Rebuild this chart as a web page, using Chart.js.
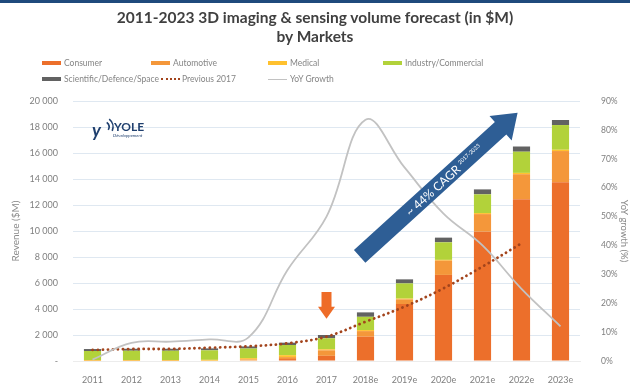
<!DOCTYPE html>
<html>
<head>
<meta charset="utf-8">
<script src="https://cdn.jsdelivr.net/npm/chart.js@4.4.1/dist/chart.umd.min.js"></script>
<style>
  body { margin: 0; background: #fff; }
  #wrap { position: relative; width: 630px; height: 386px; overflow: hidden; font-family: Lato, "Open Sans", sans-serif; }
  #topbar { position: absolute; left: 0; top: 0; width: 630px; height: 3px; background: #1f4a7c; }
  #title { position: absolute; left: 0; top: 8px; width: 630px; text-align: center; font-weight: bold; font-size: 15.5px; line-height: 19px; color: #404040; }
  .lg { position: absolute; font-size: 8.5px; color: #858585; white-space: nowrap; line-height: 10px; height: 10px; }
  .sw { position: absolute; left: 0; top: 3px; width: 19px; height: 4px; }
  .lg span.t { position: relative; top: 0; }
  #chart { position: absolute; left: 0; top: 0; }
</style>
</head>
<body>
<div id="wrap">
  <canvas id="chart" width="630" height="386"></canvas>
  <div id="topbar"></div>
  <div id="title">2011-2023 3D imaging &amp; sensing volume forecast (in $M)<br>by Markets</div>
  <div id="legend"></div>
</div>
<script>
// categories / series (values in $M, growth in %)
const categories = ['2011', '2012', '2013', '2014', '2015', '2016', '2017',
  '2018e', '2019e', '2020e', '2021e', '2022e', '2023e'];
const consumer   = [0, 0, 0, 0, 40, 150, 400, 1870, 4380, 6620, 9950, 12450, 13750];
const automotive = [20, 20, 20, 30, 80, 150, 420, 430, 360, 1100, 1350, 1920, 2400];
const medical    = [50, 50, 50, 60, 100, 150, 80, 80, 60, 60, 80, 100, 100];
const industry   = [700, 720, 720, 730, 740, 780, 850, 1020, 1170, 1350, 1440, 1630, 1900];
const scientific = [150, 150, 150, 150, 160, 180, 250, 340, 310, 360, 380, 400, 390];
const previous2017 = [850, 920, 930, 1020, 1130, 1360, 1870, 3020, 4180, 5590, 7260, 9050, null];
const yoyGrowth  = [0.5, 6.3, 6.7, 7.5, 8.2, 31.5, 50, 83.5, 67, 51, 40, 25, 12];

const revenueMax = 20000;
const revenueStep = 1000;
const growthMax = 90;
const growthStep = 10;

const colors = {
  consumer: '#ec6f2b',
  automotive: '#f4973a',
  medical: '#ffc12e',
  industry: '#b2d23a',
  scientific: '#626262',
  previous: '#a3441c',
  yoy: '#c2c2c2'
};

function fmtThousands(v) {
  if (v === 0) return '-';
  return String(v).replace(/\B(?=(\d{3})+(?!\d))/g, ' ');
}

const barDs = (label, data, color) => ({
  type: 'bar', label, data, backgroundColor: color, stack: 'm', yAxisID: 'y', order: 2,
  barPercentage: 0.44, categoryPercentage: 1
});

// decorations: Yole logo, 2017 marker arrow, CAGR arrow
const decorations = {
  id: 'decorations',
  afterDatasetsDraw(chart) {
    const { ctx, scales: { x, y } } = chart;
    ctx.save();

    // logo
    ctx.fillStyle = '#1f3f6e';
    ctx.font = 'bold italic 18px Lato';
    ctx.textBaseline = 'alphabetic';
    ctx.fillText('y', 92, 137);
    ctx.strokeStyle = '#1f3f6e';
    ctx.lineWidth = 1.6;
    ctx.beginPath(); ctx.arc(103, 127, 6, -0.9, 0.5); ctx.stroke();
    ctx.beginPath(); ctx.arc(103, 127, 10, -0.9, 0.4); ctx.stroke();
    ctx.font = 'bold 12px Lato';
    ctx.fillText('YOLE', 114, 131);
    ctx.font = 'italic 4.5px Lato';
    ctx.fillText('Développement', 113, 137);

    // orange arrow above 2017
    const ax = x.getPixelForValue(6);
    const aTop = y.getPixelForValue(5300);
    const aTip = y.getPixelForValue(3250);
    const headStart = aTip - 12;
    ctx.fillStyle = '#ee6c28';
    ctx.beginPath();
    ctx.moveTo(ax - 5, aTop);
    ctx.lineTo(ax + 5, aTop);
    ctx.lineTo(ax + 5, headStart);
    ctx.lineTo(ax + 8.5, headStart);
    ctx.lineTo(ax, aTip);
    ctx.lineTo(ax - 8.5, headStart);
    ctx.lineTo(ax - 5, headStart);
    ctx.closePath();
    ctx.fill();

    // CAGR arrow
    const sx = x.getPixelForValue(6.85), sy = y.getPixelForValue(8050);
    const ex = x.getPixelForValue(10.9), ey = y.getPixelForValue(19100);
    const ang = Math.atan2(ey - sy, ex - sx);
    const len = Math.hypot(ex - sx, ey - sy);
    const hw = 8.5, headW = 16.5, headL = 23;
    ctx.translate(sx, sy);
    ctx.rotate(ang);
    ctx.fillStyle = '#2e5e95';
    ctx.beginPath();
    ctx.moveTo(0, -hw);
    ctx.lineTo(len - headL, -hw);
    ctx.lineTo(len - headL, -headW);
    ctx.lineTo(len, 0);
    ctx.lineTo(len - headL, headW);
    ctx.lineTo(len - headL, hw);
    ctx.lineTo(0, hw);
    ctx.closePath();
    ctx.fill();
    ctx.fillStyle = '#ffffff';
    ctx.textBaseline = 'middle';
    ctx.textAlign = 'left';
    ctx.font = '12px Lato';
    const main = '~ 44% CAGR';
    const tx = len * 0.3;
    ctx.fillText(main, tx, 1);
    const mw = ctx.measureText(main).width;
    ctx.font = '5.5px Lato';
    ctx.fillText('2017-2023', tx + mw + 3, -2);
    ctx.restore();
  }
};

const chart = new Chart(document.getElementById('chart'), {
  data: {
    labels: categories,
    datasets: [
      barDs('Consumer', consumer, colors.consumer),
      barDs('Automotive', automotive, colors.automotive),
      barDs('Medical', medical, colors.medical),
      barDs('Industry/Commercial', industry, colors.industry),
      barDs('Scientific/Defence/Space', scientific, colors.scientific),
      {
        type: 'line', label: 'Previous 2017', data: previous2017, yAxisID: 'y', order: 1,
        borderColor: colors.previous, borderWidth: 2.8, borderDash: [0.1, 5], borderCapStyle: 'round',
        pointRadius: 0, tension: 0.35, fill: false
      },
      {
        type: 'line', label: 'YoY Growth', data: yoyGrowth, yAxisID: 'y1', order: 0,
        borderColor: colors.yoy, borderWidth: 1.8, pointRadius: 0, tension: 0.4, fill: false
      }
    ]
  },
  options: {
    responsive: false,
    animation: false,
    layout: { padding: { top: 101, left: 0, right: 0, bottom: 0 } },
    plugins: {
      legend: { display: false },
      title: { display: false },
      tooltip: { enabled: false }
    },
    scales: {
      x: {
        stacked: true,
        grid: { display: false },
        border: { color: '#ececec' },
        ticks: { color: '#7f7f7f', font: { family: 'Lato', size: 9 }, padding: 6, maxRotation: 0 },
        afterFit(s) { s.height = 25; }
      },
      y: {
        stacked: true,
        min: 0, max: revenueMax,
        position: 'left',
        border: { display: false },
        grid: { color: '#dfe8f1', drawTicks: false },
        ticks: {
          stepSize: revenueStep,
          color: '#7f7f7f', font: { family: 'Lato', size: 9 }, padding: 15,
          callback: v => (v % 2000 === 0 ? fmtThousands(v) : '')
        },
        title: { display: true, text: 'Revenue ($M)', color: '#8a8a8a', font: { family: 'Lato', size: 10 }, padding: { top: 10, bottom: 0 } },
        afterFit(s) { s.width = 73; }
      },
      y1: {
        min: 0, max: growthMax,
        position: 'right',
        border: { display: false },
        grid: { display: false },
        ticks: {
          stepSize: growthStep,
          color: '#7f7f7f', font: { family: 'Lato', size: 8.5 }, padding: 13,
          callback: v => v + '%'
        },
        title: { display: true, text: 'YoY growth (%)', color: '#8a8a8a', font: { family: 'Lato', size: 9.5 }, padding: { top: 0, bottom: 0 } },
        afterFit(s) { s.width = 50; }
      }
    }
  },
  plugins: [decorations]
});

// HTML legend laid out like the original (two rows, 'Previous 2017' follows the long label)
const legendPos = [
  [42, 58], [151, 58], [268, 58], [383, 58],
  [42, 74], null, [268, 74]
];
const legendEl = document.getElementById('legend');
let prevRight = 0;
chart.data.datasets.forEach((ds, i) => {
  const item = document.createElement('div');
  item.className = 'lg';
  const pos = legendPos[i] || [prevRight + 2, legendPos[i - 1][1]];
  item.style.left = pos[0] + 'px';
  item.style.top = pos[1] + 'px';
  const sw = document.createElement('span');
  sw.className = 'sw';
  if (ds.type === 'bar') {
    sw.style.background = ds.backgroundColor;
  } else if (ds.borderDash) {
    sw.style.top = '4px';
    sw.style.height = '0';
    sw.style.width = '19px';
    sw.style.borderTop = '2px dotted ' + ds.borderColor;
  } else {
    sw.style.top = '4.5px';
    sw.style.height = '1.5px';
    sw.style.background = ds.borderColor;
  }
  const t = document.createElement('span');
  t.className = 't';
  t.style.left = (ds.borderDash ? 21 : 22) + 'px';
  t.textContent = ds.label;
  item.appendChild(sw);
  item.appendChild(t);
  legendEl.appendChild(item);
  prevRight = pos[0] + 22 + t.offsetWidth;
});
</script>
</body>
</html>
